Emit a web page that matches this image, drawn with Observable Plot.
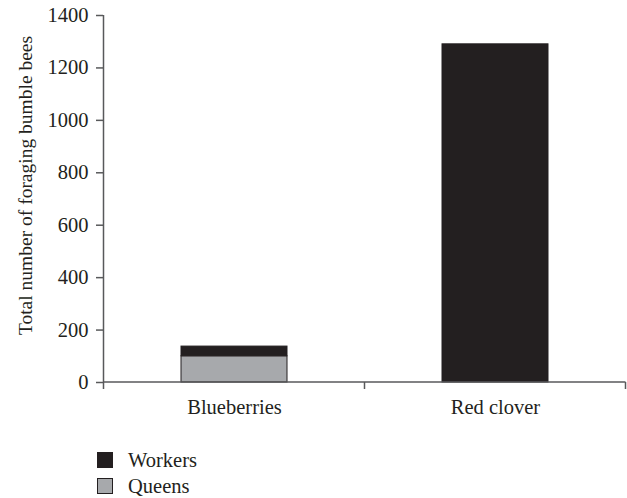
<!DOCTYPE html>
<html><head><meta charset="utf-8">
<script src="https://cdn.jsdelivr.net/npm/d3@7"></script>
<script src="https://cdn.jsdelivr.net/npm/@observablehq/plot@0.6"></script>
<style>
body{margin:0;background:#fff;font-family:"Liberation Serif",serif;color:#231f20}
#legend{position:relative;margin-left:97px;margin-top:17px;font-size:20.5px;line-height:24px}
.item{display:flex;align-items:center;height:26px}
.sw{width:14px;height:14px;border:1px solid #231f20;margin-right:15px}
</style></head><body>
<div id="chart"></div>
<div id="legend"></div>
<script>
const categories = ["Blueberries", "Red clover"];
const seriesNames = ["Workers", "Queens"];
const queens = [100, 0];
const workers = [37, 1290];
const yTicks = [0, 200, 400, 600, 800, 1000, 1200, 1400];
const colors = ["#231f20", "#a7a9ac"];
const yLabel = "Total number of foraging bumble bees";

const data = [];
categories.forEach((c, i) => {
  data.push({category: c, series: "Queens", value: queens[i]});
  data.push({category: c, series: "Workers", value: workers[i]});
});

const axisColor = "#58595b";

function frameLines(index, scales, values, dims) {
  const ns = "http://www.w3.org/2000/svg";
  const g = document.createElementNS(ns, "g");
  const x = scales.x, y = scales.y;
  const bw = x.bandwidth ? x.bandwidth() : 0;
  const centers = categories.map(c => x(c) + bw / 2);
  const step = centers.length > 1 ? centers[1] - centers[0] : dims.width;
  const bounds = [centers[0] - step / 2, ...centers.map(c => c + step / 2)];
  const y0 = y(0), yTop = y(yTicks[yTicks.length - 1]);
  const line = (x1, y1, x2, y2) => {
    const l = document.createElementNS(ns, "line");
    l.setAttribute("x1", x1); l.setAttribute("y1", y1);
    l.setAttribute("x2", x2); l.setAttribute("y2", y2);
    l.setAttribute("stroke", axisColor); l.setAttribute("stroke-width", 1.5);
    g.appendChild(l);
  };
  line(bounds[0], yTop, bounds[0], y0 + 7);
  line(bounds[0], y0, bounds[bounds.length - 1], y0);
  bounds.slice(1).forEach(b => line(b, y0, b, y0 + 7));
  const t = document.createElementNS(ns, "text");
  const cy = (y0 + yTop) / 2 - 13;
  t.setAttribute("transform", `translate(${bounds[0] - 72},${cy}) rotate(-90)`);
  t.setAttribute("text-anchor", "middle");
  t.setAttribute("fill", "#231f20");
  t.setAttribute("font-size", "19.5px");
  t.textContent = yLabel;
  g.appendChild(t);
  return g;
}

const chart = Plot.plot({
  width: 627,
  height: 430,
  marginLeft: 103,
  marginRight: 2,
  marginTop: 15,
  marginBottom: 48,
  style: {fontFamily: "Liberation Serif, serif", fontSize: "20.5px", color: "#231f20", background: "#fff"},
  x: {domain: categories, paddingInner: 0.594, paddingOuter: 0.297, label: null},
  y: {domain: [0, 1400], ticks: yTicks, label: null},
  color: {domain: seriesNames, range: colors},
  marks: [
    Plot.barY(data, Plot.stackY({
      x: "category", y: "value", fill: "series",
      order: ["Queens", "Workers"],
      stroke: "#231f20", strokeWidth: 1
    })),
    Plot.axisY({ticks: yTicks, tickSize: 7, tickPadding: 8, stroke: axisColor, strokeWidth: 1.5, label: null, tickFormat: d => String(d)}),
    Plot.axisX({tickSize: 0, tickPadding: 17, label: null}),
    frameLines
  ]
});
document.getElementById("chart").appendChild(chart);

const legend = document.getElementById("legend");
seriesNames.forEach((s, i) => {
  const it = document.createElement("div");
  it.className = "item";
  const sw = document.createElement("div");
  sw.className = "sw";
  sw.style.background = colors[i];
  const t = document.createElement("span");
  t.textContent = s;
  it.appendChild(sw); it.appendChild(t);
  legend.appendChild(it);
});
</script>
</body></html>
